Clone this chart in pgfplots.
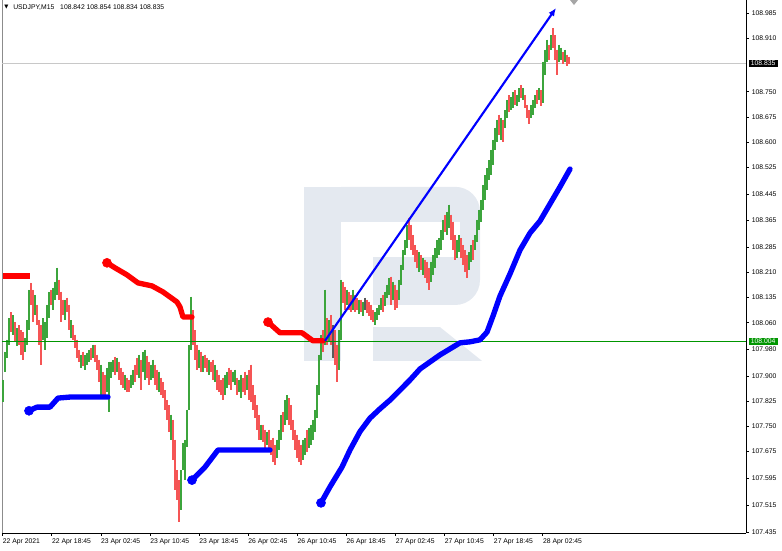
\documentclass[border=0pt]{standalone}
\usepackage{pgfplots}
\pgfplotsset{compat=1.18}
\usepackage{pgfplotstable}
\usepackage{fontspec}
\setmainfont{Liberation Sans}
\newfontfamily\sym{DejaVu Sans}
\usetikzlibrary{arrows.meta}
\definecolor{cG}{RGB}{60,165,60}
\definecolor{cR}{RGB}{245,85,85}
\definecolor{cK}{RGB}{90,90,90}
\definecolor{cSarR}{RGB}{255,0,0}
\definecolor{cSarB}{RGB}{0,0,255}
\definecolor{levelgreen}{RGB}{0,150,0}
\definecolor{cW}{RGB}{228,233,240}
\definecolor{cPrice}{RGB}{200,200,200}

\pgfplotstableread{
x lo hi
3 107.823 107.889
5 107.913 107.973
7 107.955 108.009
9 107.994 108.074
13 108.024 108.083
17 107.991 108.044
25 107.973 108.015
27 107.994 108.068
29 108.038 108.158
35 108.083 108.143
43 108.009 108.074
45 107.979 108.062
47 108.015 108.113
49 108.074 108.152
53 108.098 108.164
55 108.128 108.182
57 108.143 108.224
65 108.068 108.128
71 108.015 108.068
81 107.925 107.964
85 107.919 107.964
87 107.934 107.970
89 107.943 107.979
93 107.955 107.994
101 107.844 107.934
107 107.853 107.925
109 107.794 107.943
111 107.895 107.943
113 107.913 107.949
117 107.913 107.955
125 107.859 107.904
131 107.865 107.904
133 107.874 107.919
139 107.895 107.964
143 107.913 107.973
145 107.889 107.979
151 107.889 107.934
153 107.895 107.949
159 107.853 107.913
171 107.710 107.785
181 107.501 107.620
183 107.620 107.701
185 107.590 107.710
187 107.689 107.800
189 107.800 107.994
191 107.979 108.137
199 107.925 107.979
203 107.913 107.961
209 107.904 107.949
215 107.883 107.934
225 107.844 107.904
227 107.865 107.913
233 107.883 107.913
235 107.874 107.919
239 107.853 107.889
241 107.835 107.904
247 107.859 107.904
261 107.710 107.755
267 107.695 107.734
277 107.656 107.710
279 107.680 107.740
281 107.710 107.785
285 107.755 107.829
287 107.770 107.844
303 107.650 107.710
305 107.665 107.716
309 107.686 107.746
311 107.695 107.755
313 107.710 107.770
315 107.734 107.800
317 107.776 107.874
319 107.844 107.964
321 107.949 108.024
325 107.994 108.158
329 108.003 108.068
339 107.919 108.038
341 108.009 108.188
347 108.113 108.158
353 108.098 108.158
359 108.086 108.128
363 108.080 108.122
375 108.053 108.092
377 108.068 108.104
379 108.083 108.113
381 108.098 108.134
385 108.110 108.152
387 108.134 108.173
389 108.143 108.194
393 108.128 108.182
399 108.128 108.188
401 108.173 108.233
403 108.218 108.277
405 108.262 108.307
407 108.283 108.352
419 108.212 108.271
423 108.203 108.253
431 108.182 108.242
433 108.203 108.262
435 108.224 108.283
437 108.253 108.307
439 108.262 108.313
441 108.277 108.337
443 108.307 108.367
447 108.322 108.391
449 108.343 108.412
457 108.253 108.307
459 108.271 108.322
469 108.218 108.271
471 108.242 108.292
475 108.277 108.322
477 108.301 108.367
479 108.337 108.397
481 108.361 108.427
483 108.397 108.471
485 108.427 108.501
487 108.457 108.522
489 108.486 108.546
491 108.501 108.576
493 108.531 108.606
495 108.576 108.642
497 108.600 108.666
501 108.606 108.672
505 108.642 108.695
507 108.672 108.725
511 108.695 108.734
513 108.701 108.749
517 108.707 108.740
519 108.719 108.761
523 108.725 108.761
531 108.672 108.710
533 108.681 108.725
535 108.701 108.740
539 108.725 108.761
543 108.716 108.839
545 108.800 108.875
547 108.839 108.905
551 108.875 108.919
559 108.839 108.890
561 108.845 108.881
565 108.839 108.875
}\tG

\pgfplotstableread{
x lo hi
11 108.032 108.092
15 108.003 108.062
19 107.994 108.053
21 107.964 108.038
23 107.949 108.032
31 108.113 108.179
33 108.062 108.158
37 108.053 108.113
39 107.994 108.068
41 107.934 108.053
51 108.113 108.158
59 108.128 108.188
61 108.062 108.152
63 108.083 108.128
67 108.092 108.134
69 108.038 108.113
73 108.009 108.053
75 107.985 108.024
77 107.955 108.009
79 107.943 107.979
83 107.931 107.973
91 107.949 107.985
95 107.943 107.994
97 107.919 107.964
99 107.883 107.949
103 107.835 107.913
105 107.844 107.904
115 107.904 107.958
119 107.889 107.943
121 107.874 107.925
123 107.865 107.913
127 107.853 107.895
129 107.853 107.889
135 107.883 107.934
137 107.904 107.955
141 107.859 107.949
147 107.895 107.961
149 107.874 107.943
155 107.874 107.934
157 107.859 107.919
161 107.844 107.895
163 107.835 107.883
165 107.800 107.859
167 107.770 107.829
169 107.734 107.814
173 107.650 107.770
175 107.561 107.710
177 107.531 107.620
179 107.465 107.590
193 107.994 108.098
195 107.949 108.038
197 107.919 107.994
201 107.913 107.973
205 107.925 107.964
207 107.913 107.955
211 107.913 107.943
213 107.889 107.949
217 107.859 107.919
219 107.853 107.904
221 107.844 107.889
223 107.829 107.895
229 107.874 107.925
231 107.859 107.919
237 107.844 107.895
243 107.853 107.895
245 107.844 107.913
249 107.829 107.919
251 107.823 107.934
253 107.800 107.874
255 107.776 107.844
257 107.740 107.814
259 107.710 107.785
263 107.704 107.755
265 107.680 107.740
269 107.674 107.740
271 107.665 107.710
273 107.644 107.716
275 107.635 107.695
283 107.734 107.794
289 107.755 107.835
291 107.740 107.814
293 107.710 107.770
295 107.680 107.740
297 107.656 107.725
299 107.644 107.710
301 107.635 107.695
307 107.674 107.740
323 107.973 108.038
327 107.994 108.074
331 107.994 108.083
335 107.934 108.038
337 107.883 107.994
343 108.119 108.182
345 108.098 108.167
349 108.098 108.152
351 108.092 108.143
355 108.092 108.143
357 108.098 108.134
361 108.092 108.128
367 108.089 108.128
369 108.080 108.122
371 108.068 108.113
373 108.062 108.098
383 108.092 108.143
391 108.113 108.197
395 108.098 108.173
397 108.104 108.158
409 108.307 108.373
411 108.277 108.352
413 108.262 108.322
415 108.242 108.292
417 108.224 108.277
421 108.218 108.262
425 108.194 108.248
427 108.179 108.242
429 108.158 108.224
445 108.331 108.382
451 108.307 108.382
453 108.277 108.361
455 108.248 108.322
461 108.253 108.313
463 108.233 108.292
465 108.212 108.277
467 108.194 108.262
473 108.248 108.307
499 108.621 108.681
503 108.600 108.666
509 108.690 108.740
515 108.710 108.755
521 108.731 108.770
525 108.701 108.740
527 108.672 108.710
529 108.654 108.695
537 108.713 108.755
541 108.707 108.755
549 108.845 108.890
553 108.881 108.940
555 108.845 108.919
557 108.800 108.875
563 108.833 108.869
567 108.827 108.860
569 108.834 108.854
}\tR

\pgfplotstableread{
x lo hi
333 107.955 108.053
365 108.098 108.134
}\tK

\pgfplotstableread{
x y
2 108.004
746 108.004
}\tLevel

\begin{document}
\begin{tikzpicture}
\path[use as bounding box] (0,0) rectangle (586.5pt,412.5pt);
\begin{axis}[
  at={(1.5pt,12.75pt)}, anchor=south west,
  width=558pt, height=399.75pt, scale only axis,
  xmin=2, xmax=746, ymin=107.432, ymax=109.024,
  axis x line*=bottom, axis y line*=right,
  axis line style={black, line width=0.6pt},
  tick align=outside, major tick length=2.2pt,
  tick style={black, line width=0.5pt},
  xtick={2.7,51.8,100.9,150,199.1,248.2,297.3,346.4,395.5,444.6,493.7,542.8},
  xticklabels={22 Apr 2021,22 Apr 18:45,23 Apr 02:45,23 Apr 10:45,23 Apr 18:45,26 Apr 02:45,26 Apr 10:45,26 Apr 18:45,27 Apr 02:45,27 Apr 10:45,27 Apr 18:45,28 Apr 02:45},
  ytick={107.435,107.515,107.595,107.675,107.750,107.825,107.900,107.980,108.060,108.135,108.210,108.285,108.365,108.445,108.525,108.600,108.675,108.750,108.910,108.985},
  yticklabels={107.435,107.515,107.595,107.675,107.750,107.825,107.900,107.980,108.060,108.135,108.210,108.285,108.365,108.445,108.525,108.600,108.675,108.750,108.910,108.985},
  xticklabel style={anchor=north west, inner sep=0pt, yshift=-2pt},
  yticklabel style={anchor=west, inner sep=0pt, xshift=2pt},
  ticklabel style={font=\fontsize{5.1}{6}\selectfont, text=black},
  clip=false,
  candle/.style={only marks, mark=*, mark size=0pt, mark options={draw=none, fill=none}, forget plot,
    error bars/.cd, y dir=minus, y explicit, error mark=none,
    error bar style={color=#1, line width=1pt}},
]
% watermark
\fill[cW] (axis cs:304,108.466) rectangle (axis cs:341,107.946);
\fill[cW] (axis cs:341,108.466) -- (axis cs:455,108.466) .. controls (axis cs:469,108.466) and (axis cs:480,108.433) .. (axis cs:480,108.391) -- (axis cs:480,108.188) .. controls (axis cs:480,108.146) and (axis cs:469,108.113) .. (axis cs:455,108.113) -- (axis cs:373,108.113) -- (axis cs:373,108.256) -- (axis cs:460,108.256) -- (axis cs:460,108.361) -- (axis cs:341,108.361) -- cycle;
\fill[cW] (axis cs:373,108.047) -- (axis cs:440,108.047) -- (axis cs:482,107.946) -- (axis cs:373,107.946) -- cycle;
% left border
\draw[black!45, line width=0.6pt] (axis cs:2,107.432) -- (axis cs:2,109.024);
% current price line
\addplot[cPrice, line width=0.75pt, forget plot] coordinates {(2,108.835) (746,108.835)};
% candles
\addplot[candle=cG] table[x=x, y=hi, y error minus expr=\thisrow{hi}-\thisrow{lo}] {\tG};
\addplot[candle=cR] table[x=x, y=hi, y error minus expr=\thisrow{hi}-\thisrow{lo}] {\tR};
\addplot[candle=cK] table[x=x, y=hi, y error minus expr=\thisrow{hi}-\thisrow{lo}] {\tK};
% horizontal level
\addplot[color=levelgreen, mark=none, line width=1.2pt, forget plot] table[x=x, y=y] {\tLevel};
% SAR red
\addplot[cSarR, line width=4pt, line cap=butt, forget plot] coordinates {(3,108.200) (30,108.200)};
\addplot[cSarR, line width=4pt, line cap=round, line join=round, forget plot] coordinates {(107,108.239) (115,108.224) (127,108.203) (138,108.179) (152,108.170) (163,108.152) (177,108.122) (180,108.107) (183,108.077) (192,108.077)};
\addplot[cSarR, line width=4pt, line cap=round, line join=round, forget plot] coordinates {(268,108.062) (280,108.030) (302,108.030) (313,108.006) (323,108.006)};
\addplot[cSarR, only marks, mark=*, mark size=3.4pt, forget plot] coordinates {(107,108.239) (268,108.062)};
% SAR blue
\addplot[cSarB, line width=4pt, line cap=round, line join=round, forget plot] coordinates {(29,107.797) (37,107.808) (50,107.808) (58,107.835) (70,107.838) (108,107.838)};
\addplot[cSarB, line width=4pt, line cap=round, line join=round, forget plot] coordinates {(192,107.590) (205,107.629) (218,107.680) (270,107.680)};
\addplot[cSarB, line width=4pt, line cap=round, line join=round, forget plot] coordinates {(321,107.522) (330,107.570) (342,107.629) (350,107.680) (360,107.735) (370,107.775) (380,107.803) (390,107.829) (400,107.859) (410,107.889) (420,107.922) (430,107.943) (440,107.964) (450,107.982) (460,108.000) (470,108.003) (480,108.009) (487,108.032) (493,108.080) (500,108.140) (510,108.206) (520,108.277) (530,108.328) (540,108.364) (550,108.415) (560,108.466) (570,108.519)};
\addplot[cSarB, only marks, mark=*, mark size=3.4pt, forget plot] coordinates {(29,107.797) (192,107.590) (321,107.522)};
% trend arrow
\addplot[cSarB, line width=1.6pt, -{Latex[length=6pt,width=5pt]}, forget plot] coordinates {(325,108.006) (556,109.000)};
% shift marker
\fill[black!35] (axis cs:570,109.024) -- (axis cs:578,109.024) -- (axis cs:574,109.009) -- cycle;
% header
\node[anchor=center, inner sep=0pt, font=\sym\fontsize{4}{5}\selectfont] at (axis cs:6.5,109.002) {▼};
\node[anchor=west, inner sep=0pt, font=\fontsize{5.1}{6}\selectfont] at (axis cs:13,109.002) {USDJPY,M15\hspace{3pt} 108.842 108.854 108.834 108.835};
% price boxes
\node[anchor=west, fill=black, text=white, inner xsep=1.6pt, inner ysep=1pt, xshift=1.8pt, font=\fontsize{5.1}{6}\selectfont] at (axis cs:746,108.835) {108.835};
\node[anchor=west, fill=levelgreen, text=white, inner xsep=1.6pt, inner ysep=1pt, xshift=1.8pt, font=\fontsize{5.1}{6}\selectfont] at (axis cs:746,108.004) {108.004};
\end{axis}
\end{tikzpicture}
\end{document}
